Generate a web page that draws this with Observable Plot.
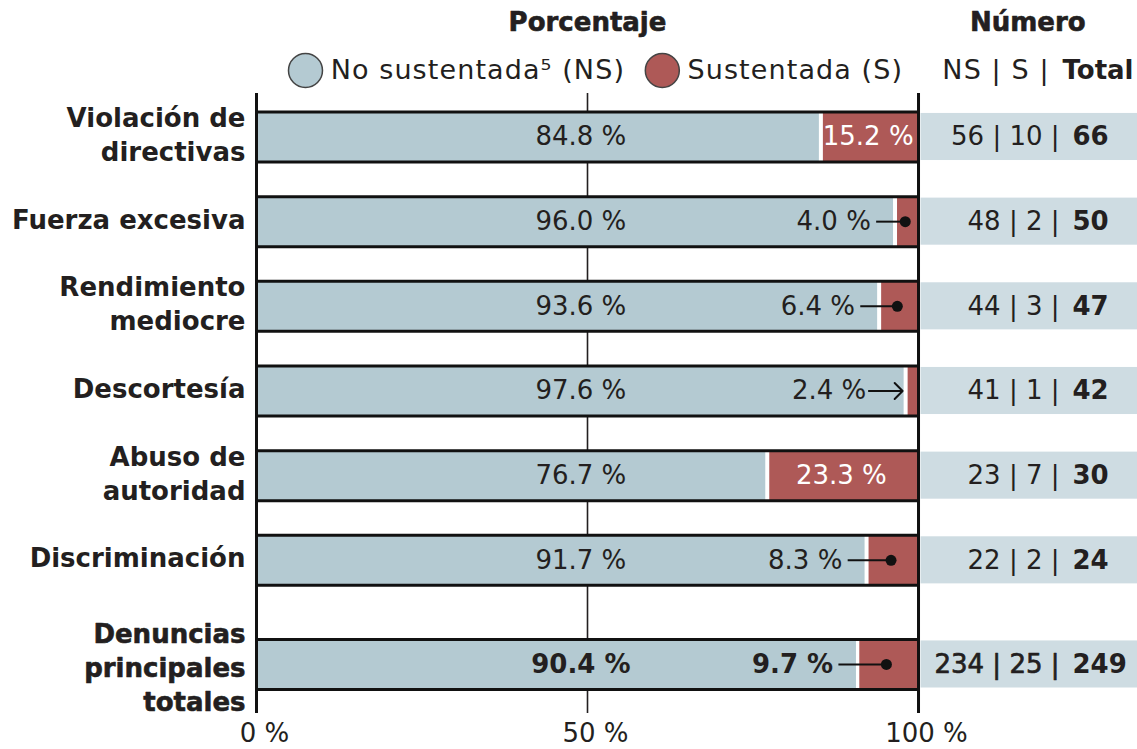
<!DOCTYPE html>
<html>
<head>
<meta charset="utf-8">
<script src="https://cdn.jsdelivr.net/npm/d3@7"></script>
<script src="https://cdn.jsdelivr.net/npm/@observablehq/plot@0.6"></script>
<style>
  body { margin: 0; background: #fff; }
  #chart svg { display: block; }
</style>
</head>
<body>
<div id="chart"></div>
<script>
// Complaint types and their share of unsubstantiated / substantiated findings
const categories = [
  "Violación de\ndirectivas",
  "Fuerza excesiva",
  "Rendimiento\nmediocre",
  "Descortesía",
  "Abuso de\nautoridad",
  "Discriminación",
  "Denuncias\nprincipales\ntotales"
];
const pctNoSustentada = [84.8, 96.0, 93.6, 97.6, 76.7, 91.7, 90.4];
const pctSustentada   = [15.2, 4.0, 6.4, 2.4, 23.3, 8.3, 9.7];
const numNoSustentada = [56, 48, 44, 41, 23, 22, 234];
const numSustentada   = [10, 2, 3, 1, 7, 2, 25];
const numTotal        = [66, 50, 47, 42, 30, 24, 249];
const xTicks = [0, 50, 100];
const legendLabels = ["No sustentada⁵ (NS)", "Sustentada (S)"];
const tableHeader = ["NS | S |", "Total"];

// Colours
const BLUE = "#b4cad2";
const RED = "#ae5957";
const TABLE_BG = "#cedce2";
const INK = "#231f20";
const FONT = "'DejaVu Sans', sans-serif";

// Layout (in scale units)
const TOTAL_GAP = 0.23;      // extra space before the summary row
const BAR_HALF = 0.295;      // half bar thickness
const BG_HALF = 0.278;       // half thickness of the count strip
const X_MAX = 133.08;        // room on the right for the count table
const Y_DOMAIN = [-1.612, 6.88];
const GRID_TOP = -0.514, GRID_BOTTOM = 6.809;
const INSIDE_MIN = 12;       // substantiated share drawn inside its segment above this

const last = categories.length - 1;
const rows = categories.map((cat, i) => ({
  cat,
  y: i + (i === last ? TOTAL_GAP : 0),
  pns: pctNoSustentada[i],
  ps: pctSustentada[i],
  ns: numNoSustentada[i],
  s: numSustentada[i],
  total: numTotal[i],
  isTotal: i === last,
  arrow: pctSustentada[i] < 3
}));
const detail = rows.filter(d => !d.isTotal);
const summary = rows.filter(d => d.isTotal);
const inside = rows.filter(d => d.ps >= INSIDE_MIN);
const outside = rows.filter(d => d.ps < INSIDE_MIN);
const withDot = outside.filter(d => !d.arrow);
const withArrow = outside.filter(d => d.arrow);

const legendY = -0.785, titleY = -1.352;
const pct = v => `${v.toFixed(1)} %`;

const chart = Plot.plot({
  width: 1137,
  height: 749,
  marginLeft: 256,
  marginRight: 0,
  marginTop: 0,
  marginBottom: 30,
  x: { domain: [0, X_MAX], axis: null },
  y: { domain: Y_DOMAIN, reverse: true, axis: null },
  style: { fontFamily: FONT, color: INK, background: "#fff" },
  marks: [
    // mid gridline, behind the bars
    Plot.ruleX([50], { y1: GRID_TOP, y2: GRID_BOTTOM, stroke: INK, strokeWidth: 1.6 }),
    // unsubstantiated segment
    Plot.rect(rows, { x1: 0, x2: "pns", y1: d => d.y - BAR_HALF, y2: d => d.y + BAR_HALF, fill: BLUE, insetRight: -1.5 }),
    // substantiated segment
    Plot.rect(rows, { x1: d => 100 - d.ps, x2: 100, y1: d => d.y - BAR_HALF, y2: d => d.y + BAR_HALF, fill: RED, insetLeft: 5.5 }),
    // bar outlines (top and bottom)
    Plot.ruleY(rows, { y: d => d.y - BAR_HALF, x1: 0, x2: 100, stroke: "#111", strokeWidth: 3 }),
    Plot.ruleY(rows, { y: d => d.y + BAR_HALF, x1: 0, x2: 100, stroke: "#111", strokeWidth: 3 }),
    // 0 % and 100 % frame lines
    Plot.ruleX([0, 100], { y1: GRID_TOP, y2: GRID_BOTTOM, stroke: "#111", strokeWidth: 3 }),

    // count table strip
    Plot.rect(rows, { x1: 100, x2: X_MAX, y1: d => d.y - BG_HALF, y2: d => d.y + BG_HALF, fill: TABLE_BG, insetLeft: 2.5 }),
    Plot.text(detail, {
      x: 121.3, y: "y", text: d => `${d.ns} | ${d.s} |`, textAnchor: "end",
      fontSize: 26, fill: INK
    }),
    Plot.text(summary, {
      x: 121.3, y: "y", text: d => `${d.ns} | ${d.s} |`, textAnchor: "end",
      fontSize: 26, fill: INK, stroke: INK, strokeWidth: 0.7
    }),
    Plot.text(rows, {
      x: 123.26, y: "y", text: d => `${d.total}`, textAnchor: "start",
      fontSize: 26, fontWeight: "bold", fill: INK
    }),

    // percentage labels
    Plot.text(detail, { x: 49, y: "y", text: d => pct(d.pns), fontSize: 26, fill: INK }),
    Plot.text(summary, { x: 49, y: "y", text: d => pct(d.pns), fontSize: 26, fontWeight: "bold", fill: INK }),
    Plot.text(inside, {
      x: d => 100 - d.ps / 2, y: "y", text: d => pct(d.ps), fontSize: 26, fill: "#fff"
    }),
    Plot.text(outside.filter(d => !d.isTotal), {
      x: d => 100 - d.ps - (d.arrow ? 5.5 : 3.2), y: "y", text: d => pct(d.ps),
      textAnchor: "end", fontSize: 26, fill: INK
    }),
    Plot.text(outside.filter(d => d.isTotal), {
      x: d => 100 - d.ps - 3.2, y: "y", text: d => pct(d.ps),
      textAnchor: "end", fontSize: 26, fontWeight: "bold", fill: INK
    }),
    // leaders to the thin substantiated segments
    Plot.link(withDot, {
      x1: d => 100 - d.ps - 2.4, x2: d => 100 - d.ps / 2, y1: "y", y2: "y",
      stroke: "#111", strokeWidth: 2
    }),
    Plot.dot(withDot, { x: d => 100 - d.ps / 2, y: "y", r: 5.5, fill: "#111" }),
    Plot.arrow(withArrow, {
      x1: d => 100 - d.ps - 5.1, x2: d => 100 - d.ps, y1: "y", y2: "y",
      stroke: "#111", strokeWidth: 2, headLength: 13, headAngle: 90, bend: 0
    }),

    // category labels
    Plot.text(detail, {
      x: 0, y: "y", text: "cat", textAnchor: "end", dx: -11, dy: -4,
      fontSize: 26, lineHeight: 1.31, fontWeight: "bold", fill: INK
    }),
    Plot.text(summary, {
      x: 0, y: "y", text: "cat", textAnchor: "end", dx: -11, dy: 2,
      fontSize: 26, lineHeight: 1.31, fontWeight: "bold", fill: INK, stroke: INK, strokeWidth: 0.6
    }),

    // headers and legend
    Plot.text(["Porcentaje"], { x: 50, y: titleY, text: d => d, fontSize: 26, fontWeight: "bold", fill: INK, stroke: INK, strokeWidth: 0.6 }),
    Plot.text(["Número"], { x: 116.5, y: titleY, text: d => d, fontSize: 26, fontWeight: "bold", fill: INK, stroke: INK, strokeWidth: 0.6 }),
    Plot.dot([BLUE], { x: 7.4, y: legendY, r: 17, fill: d => d, stroke: "#444", strokeWidth: 1.5 }),
    Plot.dot([RED], { x: 61.3, y: legendY, r: 17, fill: d => d, stroke: "#444", strokeWidth: 1.5 }),
    Plot.text([legendLabels[0]], { x: 11.2, y: legendY, text: d => d, textAnchor: "start", fontSize: 27, fill: INK }),
    Plot.text([legendLabels[1]], { x: 65.1, y: legendY, text: d => d, textAnchor: "start", fontSize: 27, fill: INK }),
    Plot.text([tableHeader[0]], { x: 119.8, y: legendY, text: d => d, textAnchor: "end", fontSize: 27, fill: INK }),
    Plot.text([tableHeader[1]], { x: 121.75, y: legendY, text: d => d, textAnchor: "start", fontSize: 26, fontWeight: "bold", fill: INK }),

    // x axis
    Plot.axisX(xTicks, {
      anchor: "bottom", tickSize: 0, tickPadding: 4, fontSize: 26, dx: 8, label: null,
      tickFormat: d => `${d} %`, fill: INK
    })
  ]
});

// a little tracking on the legend wording
const tracked = new Set([...legendLabels, tableHeader[0]]);
d3.select(chart).selectAll("text")
  .filter(function () { return tracked.has(this.textContent); })
  .style("letter-spacing", "1.1px");

document.getElementById("chart").append(chart);
</script>
</body>
</html>
